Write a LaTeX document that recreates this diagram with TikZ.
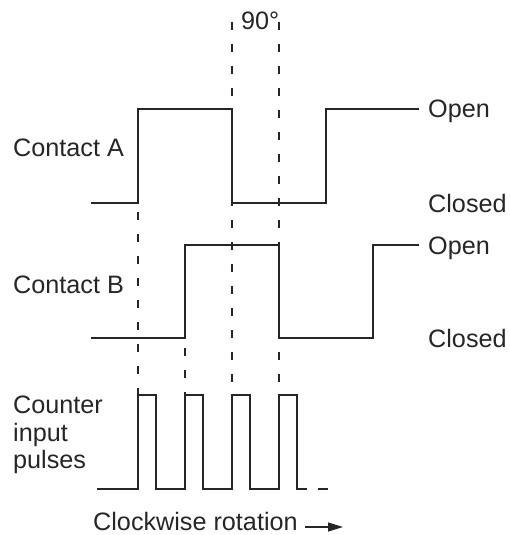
\documentclass[tikz,border=0pt]{standalone}
\usepackage{fontspec}
\setmainfont{Liberation Sans}
\usetikzlibrary{arrows.meta}
\begin{document}
\begin{tikzpicture}[x=1pt,y=-1pt,
  wave/.style={line width=1.3pt,line join=miter,black!85},
  guide/.style={line width=1.3pt,black!85,dash pattern=on 8pt off 14pt},
  lbl/.style={anchor=base west,inner sep=0pt,font=\fontsize{25.2}{28}\selectfont,text=black!85}]
\useasboundingbox (0,0) rectangle (509,535);
% guides
\draw[guide] (138,212) -- (138,395);
\draw[guide] (185,348) -- (185,395);
\draw[guide] (232,22) -- (232,395);
\draw[guide] (279,22) -- (279,395);
% contact A
\draw[wave] (91,203) -- (138,203) -- (138,109) -- (232,109) -- (232,203) -- (326,203) -- (326,109) -- (419,109);
% contact B
\draw[wave] (91,338) -- (185,338) -- (185,245) -- (279,245) -- (279,338) -- (373,338) -- (373,245) -- (419,245);
% pulses
\draw[wave] (97,489) -- (138,489) -- (138,395) -- (156,395) -- (156,489)
  -- (185,489) -- (185,395) -- (203,395) -- (203,489)
  -- (232,489) -- (232,395) -- (250,395) -- (250,489)
  -- (279,489) -- (279,395) -- (297,395) -- (297,489) -- (307,489);
\draw[wave] (318,489) -- (328,489);
% labels
\node[lbl] (ca) at (13,156) {Contact A};
\node[lbl] (cb) at (13,293) {Contact B};
\node[lbl] (c1) at (13,413) {Counter};
\node[lbl] (c2) at (13,441) {input};
\node[lbl] (c3) at (13,468) {pulses};
\node[lbl] (oa) at (428,117) {Open};
\node[lbl] (cla) at (428,212) {Closed};
\node[lbl] (ob) at (428,254) {Open};
\node[lbl] (clb) at (428,347) {Closed};
\node[lbl] (deg) at (241,30) {90°};
\node[lbl] (cw) at (93,530) {Clockwise rotation};
\coordinate (a1) at (305,527);
\coordinate (a2) at (343,527);
\draw[line width=1.3pt,black!85,-{Triangle[length=15pt,width=9pt]}] (a1) -- (a2);
\end{tikzpicture}
\end{document}
